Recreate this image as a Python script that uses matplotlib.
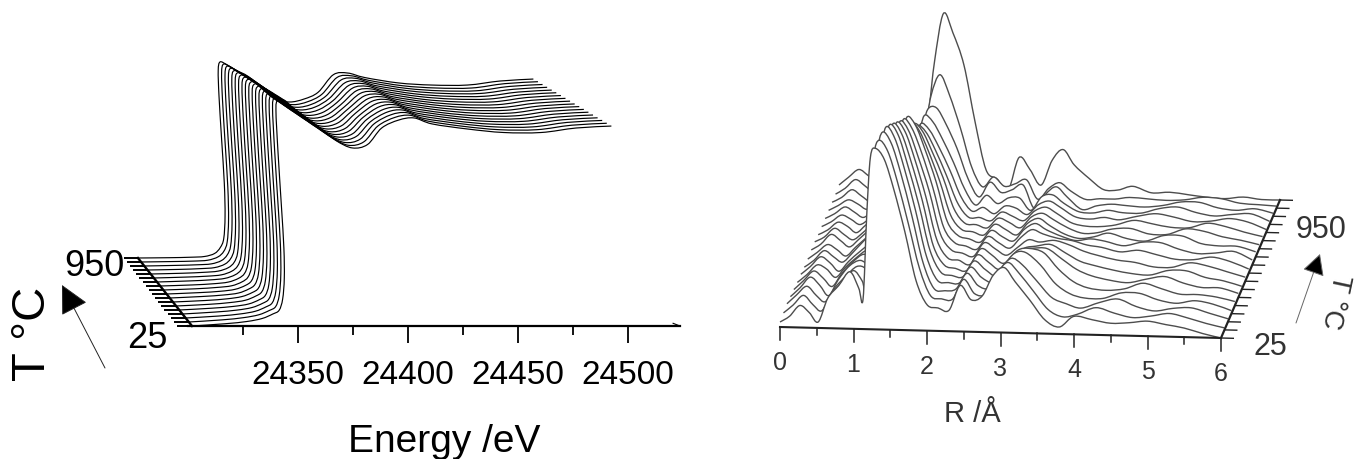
import matplotlib
matplotlib.use('Agg')
import matplotlib.pyplot as plt
from matplotlib.path import Path
from matplotlib.patches import PathPatch
from matplotlib.transforms import Affine2D
import numpy as np

plt.rcParams['font.family'] = ['Liberation Sans', 'DejaVu Sans']

W, H = 1357, 459

# XANES panel, front (25 C) to back (950 C)
energy = [24302, 24317, 24327, 24334, 24339, 24342, 24344, 24345.5, 24346.4, 24346.8, 24347.2, 24347.8,
          24349, 24352, 24356, 24362, 24368, 24374, 24381, 24388, 24395, 24403, 24410, 24418, 24434,
          24450, 24467, 24483, 24499]
xanes_mu = [
    [0, .015, .030, .050, .080, .105, .180, .320, .520, .800, 1.150, 1.440, 1.505, 1.505, 1.450, 1.380, 1.310, 1.235, 1.187, 1.210, 1.320, 1.373, 1.387, 1.347, 1.313, 1.290, 1.290, 1.320, 1.333],
    [0, .014, .029, .048, .077, .103, .177, .318, .519, .800, 1.146, 1.429, 1.493, 1.492, 1.438, 1.370, 1.299, 1.225, 1.178, 1.201, 1.307, 1.364, 1.378, 1.339, 1.304, 1.282, 1.282, 1.312, 1.325],
    [0, .013, .027, .045, .074, .101, .174, .315, .518, .800, 1.142, 1.418, 1.482, 1.480, 1.427, 1.360, 1.289, 1.214, 1.170, 1.192, 1.295, 1.355, 1.369, 1.330, 1.296, 1.274, 1.274, 1.304, 1.317],
    [0, .013, .026, .043, .071, .099, .171, .313, .516, .800, 1.138, 1.406, 1.470, 1.467, 1.415, 1.350, 1.278, 1.204, 1.161, 1.184, 1.282, 1.346, 1.360, 1.322, 1.287, 1.266, 1.266, 1.295, 1.308],
    [0, .012, .024, .040, .068, .097, .168, .310, .515, .800, 1.134, 1.395, 1.459, 1.455, 1.404, 1.340, 1.268, 1.194, 1.153, 1.175, 1.270, 1.337, 1.351, 1.313, 1.279, 1.258, 1.258, 1.287, 1.300],
    [0, .011, .023, .038, .066, .095, .166, .308, .514, .800, 1.130, 1.384, 1.447, 1.442, 1.392, 1.330, 1.257, 1.184, 1.144, 1.166, 1.257, 1.329, 1.342, 1.305, 1.270, 1.249, 1.249, 1.279, 1.292],
    [0, .010, .021, .036, .063, .092, .163, .306, .513, .800, 1.125, 1.373, 1.435, 1.429, 1.381, 1.320, 1.246, 1.173, 1.135, 1.157, 1.244, 1.320, 1.332, 1.296, 1.261, 1.241, 1.241, 1.271, 1.284],
    [0, .010, .020, .033, .060, .090, .160, .303, .512, .800, 1.121, 1.362, 1.424, 1.417, 1.369, 1.310, 1.236, 1.163, 1.127, 1.148, 1.232, 1.311, 1.323, 1.288, 1.253, 1.233, 1.233, 1.263, 1.276],
    [0, .009, .018, .031, .057, .088, .157, .301, .510, .800, 1.117, 1.350, 1.412, 1.404, 1.358, 1.300, 1.225, 1.153, 1.118, 1.140, 1.219, 1.302, 1.314, 1.279, 1.244, 1.225, 1.225, 1.254, 1.267],
    [0, .008, .017, .028, .054, .086, .154, .298, .509, .800, 1.113, 1.339, 1.401, 1.392, 1.347, 1.290, 1.215, 1.142, 1.110, 1.131, 1.207, 1.293, 1.305, 1.271, 1.236, 1.217, 1.217, 1.246, 1.259],
    [0, .007, .015, .026, .051, .084, .151, .296, .508, .800, 1.109, 1.328, 1.389, 1.379, 1.335, 1.280, 1.204, 1.132, 1.101, 1.122, 1.194, 1.284, 1.296, 1.262, 1.227, 1.209, 1.209, 1.238, 1.251],
    [0, .007, .014, .024, .048, .082, .148, .294, .507, .800, 1.105, 1.317, 1.377, 1.366, 1.324, 1.270, 1.193, 1.122, 1.092, 1.113, 1.181, 1.275, 1.287, 1.254, 1.218, 1.201, 1.201, 1.230, 1.243],
    [0, .006, .012, .021, .045, .080, .145, .291, .506, .800, 1.101, 1.306, 1.366, 1.354, 1.312, 1.260, 1.183, 1.111, 1.084, 1.104, 1.169, 1.266, 1.278, 1.245, 1.210, 1.193, 1.193, 1.222, 1.235],
    [0, .005, .011, .019, .042, .078, .142, .289, .504, .800, 1.097, 1.294, 1.354, 1.341, 1.301, 1.250, 1.172, 1.101, 1.075, 1.096, 1.156, 1.257, 1.269, 1.237, 1.201, 1.185, 1.185, 1.213, 1.226],
    [0, .004, .009, .016, .039, .076, .139, .286, .503, .800, 1.093, 1.283, 1.343, 1.329, 1.289, 1.240, 1.162, 1.091, 1.067, 1.087, 1.144, 1.248, 1.260, 1.228, 1.193, 1.177, 1.177, 1.205, 1.218],
    [0, .004, .008, .014, .036, .074, .136, .284, .502, .800, 1.089, 1.272, 1.331, 1.316, 1.278, 1.230, 1.151, 1.081, 1.058, 1.078, 1.131, 1.240, 1.251, 1.220, 1.184, 1.168, 1.168, 1.197, 1.210],
    [0, .003, .006, .012, .034, .071, .134, .282, .501, .800, 1.084, 1.261, 1.319, 1.303, 1.266, 1.220, 1.140, 1.070, 1.049, 1.069, 1.118, 1.231, 1.241, 1.211, 1.175, 1.160, 1.160, 1.189, 1.202],
    [0, .002, .005, .010, .030, .070, .130, .280, .500, .800, 1.080, 1.250, 1.307, 1.290, 1.255, 1.210, 1.130, 1.060, 1.040, 1.060, 1.105, 1.222, 1.233, 1.203, 1.167, 1.153, 1.153, 1.180, 1.193],
]
energy_major = [24350, 24400, 24450, 24500]
energy_minor = [24325, 24375, 24425, 24475]

# EXAFS panel, front (25 C) to back (950 C)
r_values = [0, .13, .27, .4, .52, .65, .8, .95, 1.07, 1.13, 1.18, 1.23, 1.3, 1.42, 1.55, 1.7, 1.85, 2.0, 2.15,
            2.3, 2.45, 2.6, 2.75, 2.9, 3.05, 3.2, 3.4, 3.6, 3.8, 4.0, 4.25, 4.5, 4.75, 5.0, 5.25, 5.5, 5.75, 6.0]
ft_mag = [
    [5, 11, 22, 15, 6, 30, 43, 57, 41, 30, 114, 172, 181, 170, 140, 98, 50, 26, 23, 21, 46, 32, 36, 57, 65, 51, 33, 14, 7, 18, 15, 12, 13, 15, 12, 9, 4, 0],
    [6, 14, 24, 15, 9, 26, 38, 50, 40, 30, 105, 165, 181, 170, 140, 98, 54, 27, 24, 24, 44, 30, 30, 50, 62, 52, 34, 16, 9, 12, 19, 14, 10, 12, 15, 11, 6, 2],
    [7, 16, 25, 16, 10, 24, 36, 46, 44, 32, 100, 160, 181, 170, 140, 98, 52, 26, 24, 26, 42, 30, 28, 46, 58, 52, 36, 20, 14, 10, 16, 20, 13, 9, 12, 13, 8, 3],
    [6, 15, 26, 18, 8, 24, 38, 44, 38, 30, 90, 150, 178, 167, 137, 96, 50, 26, 24, 24, 40, 30, 26, 42, 55, 56, 44, 26, 16, 12, 12, 18, 18, 12, 9, 12, 9, 3],
    [5, 14, 24, 17, 9, 22, 34, 42, 36, 28, 85, 145, 172, 162, 132, 93, 48, 26, 23, 22, 38, 30, 24, 38, 50, 52, 48, 32, 20, 14, 12, 14, 20, 15, 10, 10, 8, 4],
    [4, 12, 22, 18, 10, 20, 30, 38, 34, 26, 80, 138, 165, 155, 127, 89, 44, 25, 22, 20, 36, 29, 22, 32, 42, 44, 44, 34, 24, 18, 14, 12, 16, 19, 13, 9, 9, 4],
    [4, 12, 22, 16, 8, 18, 28, 36, 32, 24, 75, 130, 158, 149, 122, 85, 42, 24, 22, 18, 34, 28, 20, 28, 36, 38, 40, 32, 24, 20, 16, 13, 12, 17, 17, 11, 8, 3],
    [3, 10, 20, 14, 9, 18, 30, 40, 30, 24, 70, 122, 151, 142, 116, 82, 40, 24, 21, 18, 32, 26, 20, 28, 36, 34, 36, 32, 26, 22, 18, 16, 12, 12, 17, 14, 9, 4],
    [3, 10, 18, 13, 7, 16, 26, 36, 30, 22, 66, 116, 145, 136, 112, 78, 38, 23, 20, 17, 30, 24, 19, 30, 38, 34, 30, 28, 24, 22, 18, 20, 16, 12, 12, 15, 11, 4],
    [4, 10, 20, 14, 8, 16, 26, 34, 26, 20, 60, 110, 139, 131, 107, 75, 36, 22, 19, 16, 28, 22, 18, 30, 36, 30, 24, 20, 22, 20, 16, 20, 20, 14, 10, 11, 13, 5],
    [4, 9, 18, 12, 7, 14, 24, 30, 26, 20, 56, 100, 126, 118, 97, 68, 34, 20, 18, 15, 26, 21, 16, 28, 33, 26, 18, 14, 16, 20, 15, 13, 19, 19, 12, 10, 10, 5],
    [3, 8, 16, 12, 6, 14, 22, 28, 24, 18, 52, 92, 116, 109, 89, 63, 32, 18, 17, 14, 24, 20, 15, 26, 30, 24, 16, 11, 12, 16, 17, 12, 12, 18, 16, 11, 8, 4],
    [3, 8, 15, 11, 6, 12, 20, 26, 22, 16, 48, 84, 106, 100, 82, 57, 30, 16, 16, 13, 22, 18, 14, 24, 28, 22, 13, 10, 10, 12, 17, 14, 11, 11, 16, 13, 8, 4],
    [3, 8, 15, 10, 5, 12, 20, 26, 20, 15, 44, 78, 100, 94, 77, 54, 28, 14, 18, 12, 20, 18, 12, 22, 26, 20, 11, 9, 11, 9, 13, 16, 13, 9, 10, 13, 10, 3],
    [3, 8, 14, 10, 5, 11, 18, 24, 20, 15, 42, 76, 100, 94, 77, 54, 28, 12, 22, 14, 20, 20, 8, 22, 24, 16, 8, 7, 10, 8, 8, 13, 15, 10, 7, 9, 10, 3],
    [3, 8, 16, 10, 5, 12, 20, 26, 22, 16, 44, 76, 98, 100, 84, 60, 30, 12, 27, 17, 20, 25, 2, 16, 24, 14, 2, 6, 8, 7, 6, 8, 12, 12, 7, 5, 7, 3],
    [3, 9, 18, 12, 6, 14, 24, 32, 26, 20, 46, 72, 104, 125, 105, 72, 34, 14, 24, 15, 18, 22, 3, 14, 20, 12, 4, 5, 5, 7, 6, 5, 6, 9, 8, 4, 3, 2],
    [4, 12, 20, 14, 8, 22, 35, 48, 38, 45, 60, 85, 130, 178, 159, 127, 71, 23, 14, 3, 36, 24, 9, 34, 45, 30, 17, 6, 6, 10, 4, 5, 3, 1, 0, 2, 0, 0],
]
r_major = [0, 1, 2, 3, 4, 5, 6]
r_minor = [.5, 1.5, 2.5, 3.5, 4.5, 5.5]


def curva(xs, ys):
    # Catmull-Rom a beziers, solo para que la linea salga suave
    p = np.column_stack([xs, ys]).astype(float)
    verts = [p[0]]
    codes = [Path.MOVETO]
    for k in range(len(p) - 1):
        p0 = p[max(k - 1, 0)]
        p3 = p[min(k + 2, len(p) - 1)]
        verts += [p[k] + (p[k + 1] - p0) / 6, p[k + 1] - (p3 - p[k]) / 6, p[k + 1]]
        codes += [Path.CURVE4] * 3
    return verts, codes


def fig_px(x, y):
    return x / W, 1 - y / H


fig = plt.figure(figsize=(W / 100, H / 100), dpi=100, facecolor='white')

# ---------- panel izquierdo ----------
ax1 = fig.add_axes([188 / W, 133 / H, 492 / W, 326 / H])
ax1.set_xlim(24300, 24300 + 492 / 2.2)
ax1.set_ylim(0, 326 / 150)
for s in ['top', 'left', 'right']:
    ax1.spines[s].set_visible(False)
ax1.spines['bottom'].set_linewidth(1.6)
ax1.patch.set_alpha(0)
ax1.yaxis.set_visible(False)
ax1.set_xticks(energy_major)
ax1.set_xticks(energy_minor, minor=True)
ax1.tick_params(axis='x', which='major', length=12.2, width=1.3, labelsize=24, pad=12)
ax1.tick_params(axis='x', which='minor', length=6.5, width=1.3)


def trans1(i):
    # cada serie va corrida hacia atras y el eje vertical esta inclinado
    s = (2.21 - i * 0.13 / 17) / 2.2
    e = 24300 + (4 - 3.18 * i) / 2.2 - s * 24302
    return Affine2D.from_values(s, 0, -12 / 2.2, 1, e, i * 4 / 150)


n1 = len(xanes_mu)
for i in range(n1 - 1, -1, -1):
    tr = trans1(i) + ax1.transData
    v, c = curva(energy, xanes_mu[i])
    ax1.add_patch(PathPatch(Path(v, c), fc='none', ec='black', lw=0.85, clip_on=False, transform=tr))
    ax1.plot([energy[0] - 15 / 2.2, energy[0]], [0, 0], color='black', lw=1.4, clip_on=False, transform=tr,
             solid_capstyle='butt')

a = trans1(0).transform((energy[0], 0))
b = trans1(n1 - 1).transform((energy[0], 0))
ax1.plot([a[0], b[0]], [a[1], b[1]], color='black', lw=1.7, clip_on=False)
ax1.plot([24520.5, 24523.6], [0.018, 0], color='black', lw=0.8, clip_on=False)

fig.text(*fig_px(444, 452), 'Energy /eV', fontsize=28, ha='center', va='baseline')
fig.text(*fig_px(124, 267), '950', fontsize=26, ha='right', va='center')
fig.text(*fig_px(147, 339), '25', fontsize=26, ha='center', va='center')
fig.text(*fig_px(33, 334), 'T °C', fontsize=34, rotation=90, ha='center', va='center')
ax1.annotate('', xy=fig_px(62, 285), xytext=fig_px(105, 368), xycoords='figure fraction',
             textcoords='figure fraction',
             arrowprops=dict(arrowstyle='-|>,head_length=0.75,head_width=0.38', lw=0.7, color='#222222',
                             fc='black', mutation_scale=24, shrinkA=0, shrinkB=0))

# ---------- panel derecho ----------
ax2 = fig.add_axes([780 / W, 132 / H, 441 / W, 327 / H])
ax2.set_xlim(0, 6)
ax2.set_ylim(0, 327)
ax2.axis('off')


def trans2(i):
    return Affine2D.from_values(1, -11 / 6, 0, 1, i * 59 / 17 / 73.5, i * 138 / 17)


gris = '#4d4d4d'
n2 = len(ft_mag)
for i in range(n2 - 1, -1, -1):
    tr = trans2(i) + ax2.transData
    v, c = curva(r_values, ft_mag[i])
    relleno = v + [(r_values[-1], 0), (r_values[0], 0), v[0]]
    cods = c + [Path.LINETO, Path.LINETO, Path.CLOSEPOLY]
    ax2.add_patch(PathPatch(Path(relleno, cods), fc='white', ec='none', clip_on=False, transform=tr))
    ax2.add_patch(PathPatch(Path(v, c), fc='none', ec=gris, lw=1.0, clip_on=False, transform=tr))
    ax2.plot([6, 6 + 13 / 73.5], [0, 0], color='#222222', lw=1.0, clip_on=False, transform=tr,
             solid_capstyle='butt')

tr0 = trans2(0) + ax2.transData
ax2.plot([0, 6], [0, 0], color='#222222', lw=1.5, clip_on=False, transform=tr0)
for r in r_major:
    ax2.plot([r, r], [0, -13], color='#222222', lw=1.1, clip_on=False, transform=tr0)
    ax2.text(r, -36, str(r), fontsize=18, color='#333333', ha='center', va='center', clip_on=False, transform=tr0)
for r in r_minor:
    ax2.plot([r, r], [0, -7], color='#222222', lw=1.1, clip_on=False, transform=tr0)
a = trans2(0).transform((6, 0))
b = trans2(n2 - 1).transform((6, 0))
ax2.plot([a[0], b[0]], [a[1], b[1]], color='#222222', lw=1.6, clip_on=False)

fig.text(*fig_px(972, 422), 'R /Å', fontsize=21, color='#333333', ha='center', va='baseline')
fig.text(*fig_px(1321, 230), '950', fontsize=22, color='#333333', ha='center', va='center')
fig.text(*fig_px(1270, 347), '25', fontsize=22, color='#333333', ha='center', va='center')
fig.text(*fig_px(1335, 301), 'T °C', fontsize=20, color='#333333', rotation=-102, ha='center', va='center')
ax2.annotate('', xy=fig_px(1320, 254), xytext=fig_px(1296, 323), xycoords='figure fraction',
             textcoords='figure fraction',
             arrowprops=dict(arrowstyle='-|>,head_length=0.6,head_width=0.32', lw=0.7, color='#666666',
                             fc='black', mutation_scale=22, shrinkA=0, shrinkB=0))

fig.savefig('out.png', dpi=100)
